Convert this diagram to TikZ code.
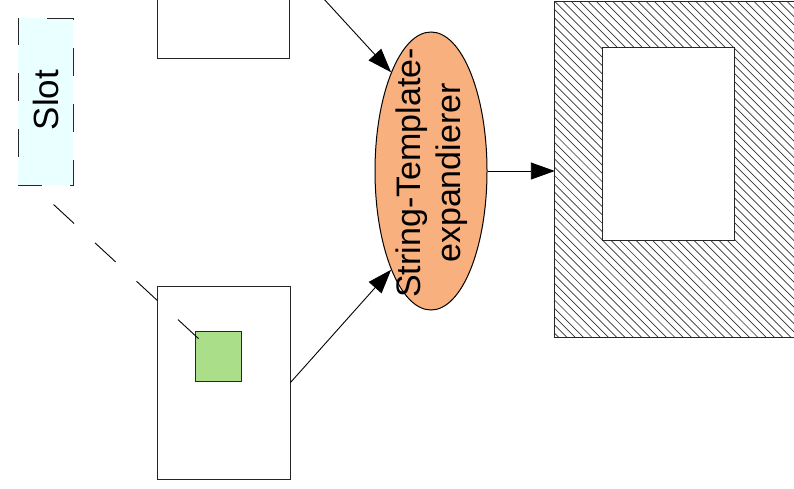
\documentclass[tikz,border=0pt]{standalone}
\usepackage{fontspec}
\setmainfont{Liberation Sans}
\usetikzlibrary{shapes.geometric,arrows.meta,calc}
\definecolor{slotfill}{RGB}{234,255,255}
\definecolor{procfill}{RGB}{247,176,126}
\definecolor{slotgreen}{RGB}{170,222,136}
\tikzset{
  box/.style={draw=black!85, line width=1pt, fill=white, rectangle, inner sep=0pt,
              minimum width=132pt, minimum height=193pt},
  slotbox/.style={draw=black!85, line width=1pt, fill=slotfill, rectangle, inner sep=0pt,
              dash pattern=on 28pt off 28pt, dash phase=4pt,
              minimum width=55pt, minimum height=167pt},
  greenbox/.style={draw=black!85, line width=1pt, fill=slotgreen, rectangle, inner sep=0pt,
              minimum width=46pt, minimum height=50pt},
  proc/.style={draw=black, line width=1pt, fill=procfill, ellipse, inner sep=0pt,
              minimum width=112pt, minimum height=278pt},
  flow/.style={line width=0.9pt, -{Triangle[length=24pt,width=17pt]}},
  slotlink/.style={line width=0.9pt, dash pattern=on 28pt off 28.5pt, dash phase=28.5pt},
  hatch/.style={line width=0.7pt, black!80},
}
\begin{document}
\begin{tikzpicture}[x=1pt,y=-1pt]
\clip (0,0) rectangle (794,488);

% template sources
\node[box] (srcA) at (223,-38.5) {};
\node[box, minimum width=133pt] (srcB) at (223.5,382.5) {};
\node[greenbox] (hole) at (218,356) {};

% slot marker
\node[slotbox] (slot) at (45.5,101.5) {};
\node[rotate=90, font=\fontsize{35}{40}\selectfont] (slotlabel) at (46,100) {Slot};
\coordinate (slotfoot) at ($(slot.south west)+(15.5,0)$);
\coordinate (holetip) at ($(hole.north west)+(5,9)$);
\draw[slotlink] (slotfoot) -- (holetip);

% expander
\node[proc] (exp) at (431,171) {};
\node[rotate=90, align=center, font=\fontsize{34}{40}\selectfont] (explabel) at (432,173)
  {String-Template-\\expandierer};

% result document with hatched border
\node[rectangle, inner sep=0pt, minimum width=300pt, minimum height=335pt] (result) at (705,169.5) {};
\begin{scope}
  \clip (result.north west) rectangle (result.south east);
  \foreach \k in {0,...,80}
    \draw[hatch] ({215+\k*8.3},2) -- ++(340,340);
\end{scope}
\draw[line width=1pt, black!85] (result.north west) rectangle (result.south east);
\node[box] (inner) at (668,143.5) {};

% flows
\draw[flow] (srcA.east) -- (exp.112);
\draw[flow] (srcB.east) -- (exp.248);
\draw[flow] (exp.east) -- (result.west |- exp.east);
\end{tikzpicture}
\end{document}
